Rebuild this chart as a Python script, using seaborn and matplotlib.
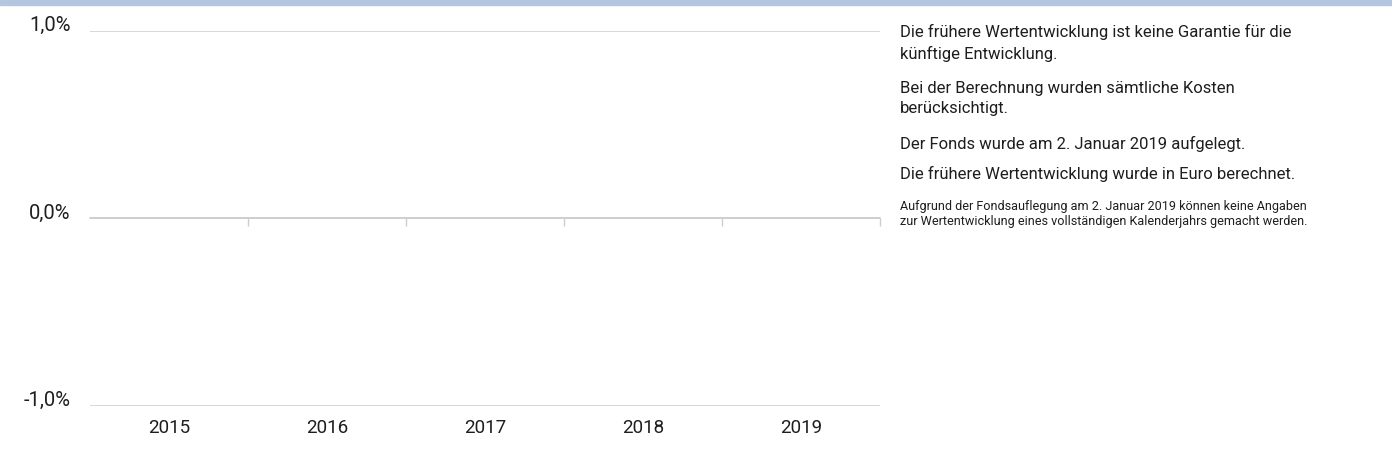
import numpy as np
import pandas as pd
import matplotlib
matplotlib.use('Agg')
import matplotlib.pyplot as plt
from matplotlib.patches import Rectangle
import seaborn as sns

# -----------------------------------------------------------------------------
# Data: calendar-year performance (no full year available yet -> empty)
# -----------------------------------------------------------------------------
years = ['2015', '2016', '2017', '2018', '2019']
fund_returns = [np.nan, np.nan, np.nan, np.nan, np.nan]
y_ticks = [-1.0, 0.0, 1.0]
y_labels = ['-1,0%', '0,0%', '1,0%']

notes_large = [
    'Die frühere Wertentwicklung ist keine Garantie für die',
    'künftige Entwicklung.',
    'Bei der Berechnung wurden sämtliche Kosten',
    'berücksichtigt.',
    'Der Fonds wurde am 2. Januar 2019 aufgelegt.',
    'Die frühere Wertentwicklung wurde in Euro berechnet.',
]
notes_small = [
    'Aufgrund der Fondsauflegung am 2. Januar 2019 können keine Angaben',
    'zur Wertentwicklung eines vollständigen Kalenderjahrs gemacht werden.',
]

df = pd.DataFrame({'Jahr': years, 'Rendite': fund_returns})

sns.set_theme(style='white')
plt.rcParams['font.family'] = ['Roboto', 'DejaVu Sans']

W, H = 1392, 465
fig = plt.figure(figsize=(W / 100, H / 100), dpi=100)
ax = fig.add_axes([90 / W, 59 / H, 790 / W, 375 / H])

sns.barplot(data=df, x='Jahr', y='Rendite', order=years, color='#1f4e8c',
            ax=ax, errorbar=None)

grid_col = '#cdcdcd'
txt_col = '#1e1e1e'
ax.set_xlim(-0.5, len(years) - 0.5)
ax.set_ylim(-1, 1)
ax.set_yticks(y_ticks)
ax.set_yticklabels(y_labels, va='baseline')
ax.set_xticks(range(len(years)))
ax.set_xticklabels(years)
ax.set_xlabel('')
ax.set_ylabel('')
ax.tick_params(axis='y', length=0, pad=14, labelsize=14.5, labelcolor=txt_col)
ax.tick_params(axis='x', length=0, pad=9, labelsize=13.5, labelcolor=txt_col)
ax.grid(axis='y', color=grid_col, lw=1.1)
ax.grid(axis='x', visible=False)
for s in ax.spines.values():
    s.set_visible(False)

# small separator ticks between years on the zero line
sec = ax.secondary_xaxis(0.5)
sec.set_xticks([i + 0.5 for i in range(len(years))])
sec.set_xticklabels([])
sec.tick_params(direction='in', length=5.5, width=1, color=grid_col)
for s in sec.spines.values():
    s.set_color(grid_col)
    s.set_linewidth(1.1)

# light blue band along the top edge
fig.patches.append(Rectangle((0, 1 - 4.7 / H), 1, 4.7 / H, transform=fig.transFigure,
                             color='#b3c6df', zorder=0))

# explanatory notes on the right
x_txt = 900 / W
for line, base in zip(notes_large, [37.5, 59, 92.5, 113, 149, 179.5]):
    fig.text(x_txt, 1 - base / H, line, fontsize=12, va='baseline', color=txt_col)
for line, base in zip(notes_small, [209.5, 225]):
    fig.text(x_txt, 1 - base / H, line, fontsize=9.1, va='baseline', color=txt_col)

fig.savefig('out.png', dpi=100)
